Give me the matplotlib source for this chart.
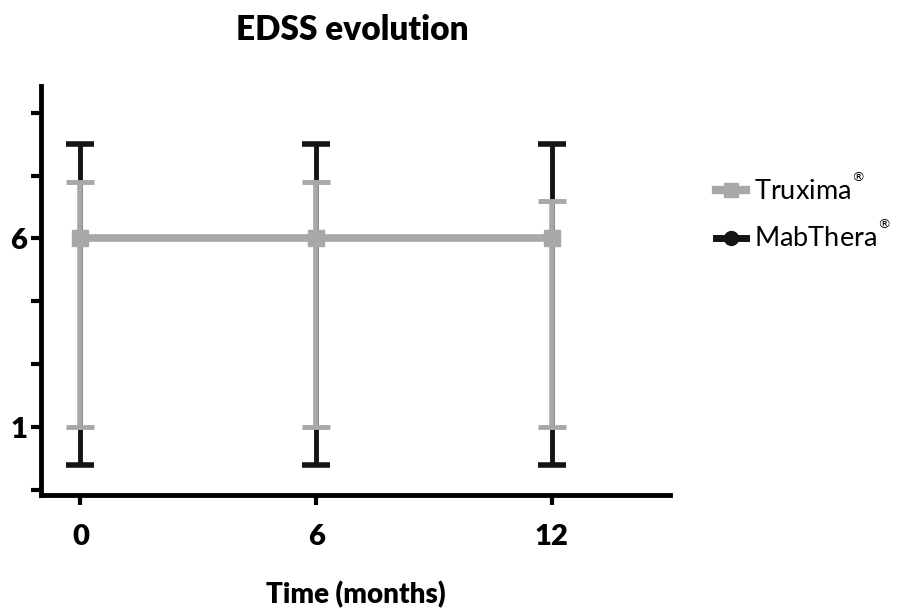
import matplotlib.pyplot as plt

# data
months = [0, 6, 12]
trux_mean = [6, 6, 6]
trux_low = [1, 1, 1]
trux_high = [7.5, 7.5, 7.0]
mab_mean = [6, 6, 6]
mab_low = [0, 0, 0]
mab_high = [8.5, 8.5, 8.5]

ytick_pos = [-2/3, 1, 8/3, 13/3, 6, 23/3, 28/3]
ytick_lab = ['', '1', '', '', '6', '', '']
xtick_pos = [0, 6, 12]
series_names = ['Truxima', 'MabThera']

plt.rcParams['font.family'] = ['Lato', 'DejaVu Sans']
plt.rcParams['mathtext.fontset'] = 'dejavusans'

grey = '#a8a8a8'
black = '#141414'

fig = plt.figure(figsize=(9.16, 6.08), dpi=100)
ax = fig.add_axes([0.045, 0.186, 0.686, 0.673])

# MabThera behind
yerr_m = [[m - l for m, l in zip(mab_mean, mab_low)], [h - m for m, h in zip(mab_mean, mab_high)]]
ax.errorbar(months, mab_mean, yerr=yerr_m, color=black, lw=3, marker='o', ms=10,
            elinewidth=3.5, capsize=10, capthick=4, zorder=2)

yerr_t = [[m - l for m, l in zip(trux_mean, trux_low)], [h - m for m, h in zip(trux_mean, trux_high)]]
ax.errorbar(months, trux_mean, yerr=yerr_t, color=grey, lw=5.5, marker='s', ms=12,
            elinewidth=4, capsize=10, capthick=3.5, zorder=3)

# legend handles
h1, = ax.plot([], [], color=grey, lw=6, marker='s', ms=10)
h2, = ax.plot([], [], color=black, lw=5, marker='o', ms=10)
ax.legend([h1, h2], [n + r'${}^{{}^{®}}$' for n in series_names],
          loc='upper left', bbox_to_anchor=(1.035, 0.845), frameon=False,
          fontsize=19.5, handlelength=1.1, handletextpad=0.3, labelspacing=0.6)

ax.set_xlim(-1, 15)
ax.set_ylim(-0.8, 10.05)
ax.set_xticks(xtick_pos)
ax.set_xticklabels([str(x) for x in xtick_pos], fontsize=21, fontweight='heavy')
ax.set_yticks(ytick_pos)
ax.set_yticklabels(ytick_lab, fontsize=21, fontweight='heavy')
ax.tick_params(axis='both', direction='out', length=7, width=3)
ax.tick_params(axis='x', pad=14)
ax.tick_params(axis='y', pad=3)

for s in ['top', 'right']:
    ax.spines[s].set_visible(False)
for s in ['left', 'bottom']:
    ax.spines[s].set_linewidth(3.5)

fig.text(0.385, 0.95, 'EDSS evolution', fontsize=24, fontweight='heavy', ha='center', va='center')
ax.set_xlabel('Time (months)', fontsize=20, fontweight='heavy', labelpad=22)

fig.savefig('out.png', dpi=100)
